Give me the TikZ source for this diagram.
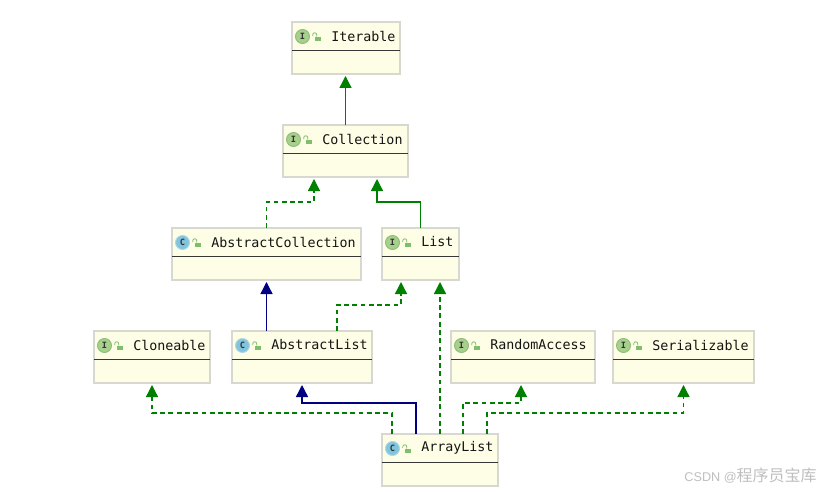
\documentclass[tikz,border=0pt]{standalone}
\usepackage{fontspec}
\setmonofont{DejaVu Sans Mono}
\newfontfamily\cjkfont{Noto Sans CJK SC}
\setsansfont{Liberation Sans}
\usetikzlibrary{arrows.meta, calc}
\definecolor{boxfill}{RGB}{254,254,230}
\definecolor{boxline}{RGB}{216,216,208}
\definecolor{textdark}{RGB}{20,20,20}
\definecolor{ifacefill}{RGB}{166,208,140}
\definecolor{ifacering}{RGB}{142,190,120}
\definecolor{classfill}{RGB}{128,196,222}
\definecolor{classring}{RGB}{176,214,226}
\definecolor{lockgreen}{RGB}{128,190,110}
\definecolor{inheritgreen}{RGB}{0,128,0}
\definecolor{inheritblue}{RGB}{0,0,128}
\tikzstyle{classbox} = [rectangle, draw=boxline, line width=1.4pt, fill=boxfill, outer sep=0pt, inner sep=0pt, minimum height=39pt]
\tikzstyle{classname} = [inner sep=0pt, anchor=west, color=textdark, font=\ttfamily\fontsize{10}{12}\selectfont]
\tikzstyle{iconletter} = [circle, inner sep=0pt, minimum size=10.5pt, line width=0.7pt, text=black!80, font=\ttfamily\bfseries\fontsize{6.5}{6.5}\selectfont]
\tikzstyle{iface} = [iconletter, draw=ifacering, fill=ifacefill]
\tikzstyle{abstr} = [iconletter, draw=classring, fill=classfill]
\tikzstyle{lockbody} = [rectangle, inner sep=0pt, minimum width=4.5pt, minimum height=3pt, fill=lockgreen]
\tikzstyle{arrow} = [line width=1pt, -{Triangle[length=9pt,width=9pt]}, shorten >=1.5pt]
\tikzstyle{implement} = [arrow, color=inheritgreen, dash pattern=on 3.6pt off 2.6pt]
\tikzstyle{extendgreen} = [arrow, color=inheritgreen]
\tikzstyle{extendblue} = [arrow, color=inheritblue]
% name, centre x, centre y, width, icon style, icon letter, label
\newcommand{\classnode}[7]{
     \node (#1) at (#2, #3) [classbox, minimum width=#4*0.75pt] {};
     \draw [line width=0.7pt, color=textdark!85] ($(#1.west)+(0, 2)$) -- ($(#1.east)+(0, 2)$);
     \node (#1-icon) at ($(#1.north west)+(10.5, 14.5)$) [#5] {#6};
     \node (#1-lock) at ($(#1.north west)+(26, 17)$) [lockbody] {};
     \draw [line width=0.6pt, color=lockgreen] ($(#1-lock.north west)+(2, 0)$) -- ++(0, -2) arc (0:-180:2 and 2) -- ++(0, 1.5);
     \node (#1-name) at ($(#1.north west)+(39, 14)$) [classname] {#7};
}
\begin{document}
\begin{tikzpicture}[x=0.75pt, y=-0.75pt]
     \useasboundingbox (0, 0) rectangle (828, 492);
     \fill[white] (0, 0) rectangle (828, 492);
     \classnode{iterable}{346}{48}{108}{iface}{I}{Iterable}
     \classnode{collection}{345.5}{151}{125}{iface}{I}{Collection}
     \classnode{abstractcollection}{266.5}{254}{189}{abstr}{C}{AbstractCollection}
     \classnode{list}{420.5}{254}{77}{iface}{I}{List}
     \classnode{cloneable}{152}{357}{116}{iface}{I}{Cloneable}
     \classnode{abstractlist}{302}{357}{140}{abstr}{C}{AbstractList}
     \classnode{randomaccess}{523}{357}{144}{iface}{I}{RandomAccess}
     \classnode{serializable}{683.5}{357}{141}{iface}{I}{Serializable}
     \classnode{arraylist}{440}{460}{116}{abstr}{C}{ArrayList}
     \draw[extendgreen] (collection.north) -- (collection.north |- iterable.south);
     \draw[implement] (abstractcollection.north) -- ++(0, -26) -| ($(collection.south)+(-31.5, 0)$);
     \draw[extendgreen] (list.north) -- ++(0, -26) -| ($(collection.south)+(31.5, 0)$);
     \draw[extendblue] (abstractcollection.north |- abstractlist.north) -- (abstractcollection.south);
     \draw[implement] ($(abstractlist.north)+(35, 0)$) -- ++(0, -26) -| ($(list.south)+(-19.5, 0)$);
     \draw[implement] ($(arraylist.north)+(-48, 0)$) -- ++(0, -21) -| (cloneable.south);
     \draw[extendblue] ($(arraylist.north)+(-24, 0)$) -- ++(0, -31) -| (abstractlist.south);
     \draw[implement] (arraylist.north) -- (arraylist.north |- list.south);
     \draw[implement] ($(arraylist.north)+(23, 0)$) -- ++(0, -31) -| ($(randomaccess.south)+(-2, 0)$);
     \draw[implement] ($(arraylist.north)+(47, 0)$) -- ++(0, -21) -| (serializable.south);
     \node (watermark) at (817, 476) [anchor=east, inner sep=0pt, color=black!25] {\sffamily\fontsize{9.5}{12}\selectfont CSDN @\cjkfont\fontsize{12}{12}\selectfont 程序员宝库};
\end{tikzpicture}
\end{document}
